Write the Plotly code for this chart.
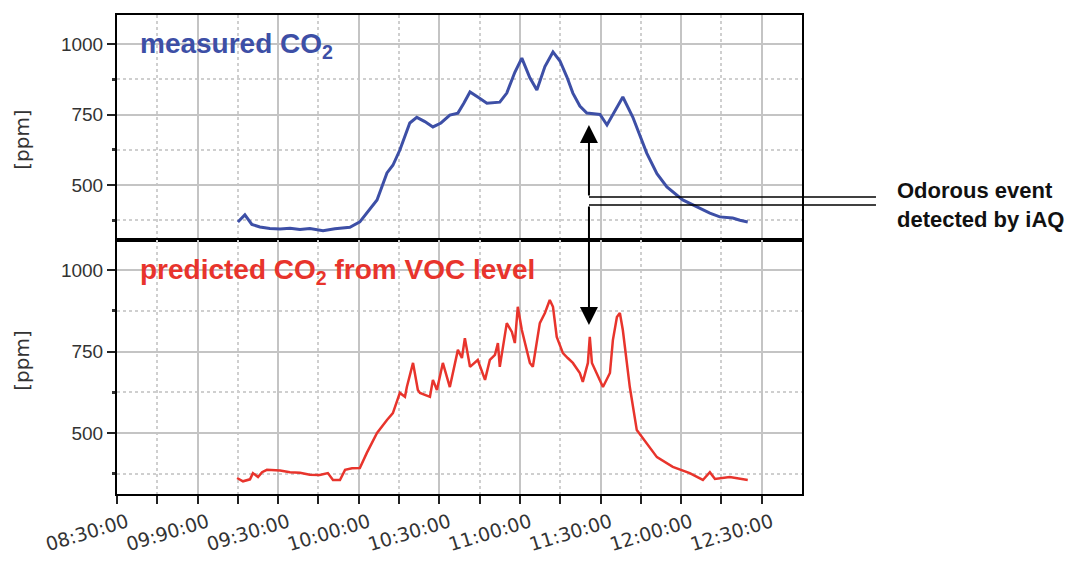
import plotly.graph_objects as go

# ---------------- data (minutes after the first axis tick) ----------------
tick_minutes = [0, 30, 60, 90, 120, 150, 180, 210, 240]
tick_labels = ["08:30:00", "09:90:00", "09:30:00", "10:00:00", "10:30:00",
               "11:00:00", "11:30:00", "12:00:00", "12:30:00"]
minor_minutes = [15, 45, 75, 105, 135, 165, 195, 225]

measured_t = [45.0, 47.6, 50.2, 53.2, 56.9, 60.7, 64.4, 68.1, 71.8, 76.7, 81.1, 86.7,
              90.4, 93.0, 96.8, 100.5, 102.7, 105.3, 109.0, 111.6, 114.6, 117.6, 120.6,
              123.9, 126.9, 129.1, 131.4, 134.3, 137.7, 142.5, 145.1, 148.1, 150.7,
              153.7, 156.3, 159.3, 162.3, 164.9, 167.5, 169.7, 172.3, 174.9, 179.8,
              182.4, 185.3, 188.3, 192.0, 197.2, 201.0, 204.7, 210.6, 217.0, 220.7,
              224.4, 229.2, 231.9, 234.8]
measured_ppm = [369, 394, 360, 351, 346, 344, 347, 342, 346, 338, 345, 350,
                369, 400, 447, 543, 570, 624, 720, 740, 725, 706, 720,
                748, 755, 790, 830, 812, 790, 794, 826, 900, 950,
                880, 837, 920, 972, 940, 883, 826, 780, 755, 750,
                713, 760, 812, 741, 613, 540, 493, 447, 418, 400,
                387, 383, 375, 369]

predicted_t = [44.7, 46.9, 49.5, 50.6, 52.5, 54.0, 55.8, 60.7, 64.4, 68.1, 71.8, 75.5,
               78.5, 80.4, 83.0, 84.9, 87.5, 90.4, 93.0, 96.8, 100.5, 102.7, 105.3,
               107.2, 107.9, 110.2, 112.0, 112.8, 116.5, 117.6, 119.1, 121.3, 123.9,
               126.9, 128.4, 129.5, 131.4, 134.3, 137.0, 138.8, 140.7, 141.8, 142.5,
               145.1, 147.0, 148.1, 149.2, 150.7, 153.7, 154.8, 157.4, 159.3, 161.1,
               162.3, 163.7, 166.0, 167.8, 169.7, 172.3, 173.4, 175.3, 176.0, 176.8,
               178.6, 180.9, 183.5, 184.6, 186.1, 187.2, 188.3, 190.9, 193.5, 197.2,
               201.0, 206.9, 213.2, 218.1, 220.7, 222.6, 228.1, 234.8]
predicted_ppm = [362, 352, 358, 377, 365, 380, 387, 385, 380, 378, 372, 371,
                 377, 356, 356, 387, 392, 393, 439, 500, 540, 561, 623,
                 611, 641, 715, 632, 623, 611, 663, 632, 715, 641,
                 755, 730, 791, 703, 724, 663, 724, 740, 776, 703,
                 837, 810, 776, 887, 816, 715, 703, 837, 868, 908,
                 887, 795, 745, 730, 715, 684, 657, 715, 795, 715,
                 684, 641, 684, 785, 856, 868, 816, 641, 509, 469,
                 426, 396, 377, 356, 380, 359, 365, 356]

top_ticks = [500, 750, 1000]
top_minor = [375, 625, 875]
bottom_ticks = [500, 750, 1000]
bottom_minor = [375, 625, 875]

BLUE = "#3d4fa6"
RED = "#e8342c"
GRID = "#c4c4c4"
MINOR_GRID = "#cfcfcf"

fig = go.Figure()
fig.add_trace(go.Scatter(x=measured_t, y=measured_ppm, mode="lines",
                         line=dict(color=BLUE, width=3), xaxis="x", yaxis="y",
                         showlegend=False))
fig.add_trace(go.Scatter(x=predicted_t, y=predicted_ppm, mode="lines",
                         line=dict(color=RED, width=2.5), xaxis="x2", yaxis="y2",
                         showlegend=False))

xcommon = dict(range=[0, 255], showline=True, mirror=True, linecolor="black", linewidth=2,
               showgrid=True, gridcolor=GRID, gridwidth=1.5, zeroline=False,
               tickvals=tick_minutes, automargin=False)
ycommon = dict(showline=True, mirror=True, linecolor="black", linewidth=2,
               showgrid=True, gridcolor=GRID, gridwidth=1.5, zeroline=False,
               ticks="outside", ticklen=8, tickwidth=2, tickcolor="#222", automargin=False,
               tickfont=dict(family="Liberation Sans, Arial", size=19, color="#333"))

fig.update_layout(
    width=1057, height=547, autosize=False,
    margin=dict(l=109, r=263, t=7, b=61, autoexpand=False),
    plot_bgcolor="white", paper_bgcolor="white",
    xaxis=dict(**xcommon, anchor="y", showticklabels=False, ticks="",
               minor=dict(tickvals=minor_minutes, showgrid=True, gridcolor=MINOR_GRID,
                          griddash="dot", gridwidth=1.5)),
    xaxis2=dict(**xcommon, anchor="y2", matches="x", ticktext=tick_labels,
                ticks="outside", ticklen=8, tickwidth=2, tickcolor="#222",
                tickangle=-17, ticklabelshift=10, ticklabelstandoff=0,
                tickfont=dict(family="DejaVu Sans", size=19, color="#333"),
                minor=dict(tickvals=minor_minutes, ticks="outside", ticklen=8,
                           tickwidth=2, tickcolor="#222", showgrid=True,
                           gridcolor=MINOR_GRID, griddash="dot", gridwidth=1.5)),
    yaxis=dict(**ycommon, domain=[0.5303, 1], range=[305, 1103], tickvals=top_ticks,
               minor=dict(tickvals=top_minor, ticks="outside", ticklen=3, tickwidth=3,
                          tickcolor="#333", showgrid=True, gridcolor=MINOR_GRID,
                          griddash="dot", gridwidth=1.5)),
    yaxis2=dict(**ycommon, domain=[0, 0.5303], range=[313, 1092], tickvals=bottom_ticks,
                minor=dict(tickvals=bottom_minor, ticks="outside", ticklen=3, tickwidth=3,
                           tickcolor="#333", showgrid=True, gridcolor=MINOR_GRID,
                           griddash="dot", gridwidth=1.5)),
)

anns = [
    dict(text="<b>measured CO<sub>2</sub></b>", x=0.0307, y=0.937, xref="paper", yref="paper",
         xanchor="left", yanchor="middle", showarrow=False,
         font=dict(family="Liberation Sans, Arial", size=28, color=BLUE)),
    dict(text="<b>predicted CO<sub>2</sub> from VOC level</b>", x=0.0307, y=0.465,
         xref="paper", yref="paper", xanchor="left", yanchor="middle", showarrow=False,
         font=dict(family="Liberation Sans, Arial", size=28, color=RED)),
    dict(text="<b>Odorous event<br>detected by iAQ</b>", x=1.1358, y=0.604,
         xref="paper", yref="paper", xanchor="left", yanchor="middle", align="left",
         showarrow=False, font=dict(family="Liberation Sans, Arial", size=22, color="#111")),
    dict(text="[ppm]", x=-0.139, y=0.739, xref="paper", yref="paper", textangle=-90,
         xanchor="center", yanchor="middle", showarrow=False,
         font=dict(family="DejaVu Sans", size=20, color="#333")),
    dict(text="[ppm]", x=-0.139, y=0.2777, xref="paper", yref="paper", textangle=-90,
         xanchor="center", yanchor="middle", showarrow=False,
         font=dict(family="DejaVu Sans", size=20, color="#333")),
    # arrows
    dict(text="", x=0.689, y=0.7704, xref="paper", yref="paper", ax=0, ay=72,
         showarrow=True, arrowhead=2, arrowsize=1.8, arrowwidth=2, arrowcolor="black"),
    dict(text="", x=0.689, y=0.3528, xref="paper", yref="paper", ax=0, ay=-120,
         showarrow=True, arrowhead=2, arrowsize=1.8, arrowwidth=2, arrowcolor="black"),
]
fig.update_layout(annotations=anns)

fig.add_shape(type="line", xref="paper", yref="paper", x0=0.689, x1=1.108, y0=0.620, y1=0.620,
              line=dict(color="black", width=1.5))
fig.add_shape(type="line", xref="paper", yref="paper", x0=0.689, x1=1.108, y0=0.6033, y1=0.6033,
              line=dict(color="black", width=1.5))

fig.write_html("out.html")
